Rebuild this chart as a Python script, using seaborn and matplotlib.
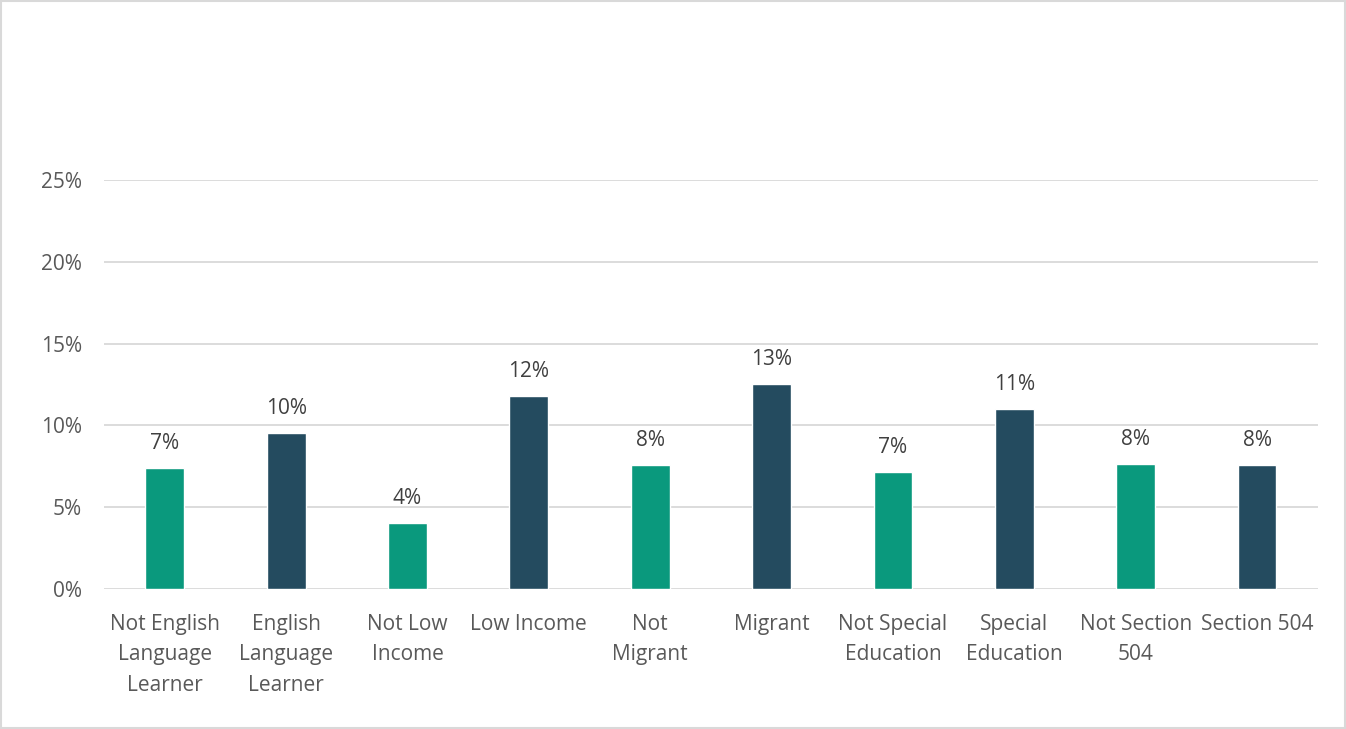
import matplotlib
matplotlib.use("Agg")
import matplotlib.pyplot as plt
import seaborn as sns
import pandas as pd
from matplotlib.ticker import FuncFormatter
from matplotlib.patches import Rectangle

categories = ["Not English\nLanguage\nLearner", "English\nLanguage\nLearner", "Not Low\nIncome",
              "Low Income", "Not\nMigrant", "Migrant", "Not Special\nEducation", "Special\nEducation",
              "Not Section\n504", "Section 504"]
values = [7.4, 9.55, 4.05, 11.8, 7.6, 12.55, 7.15, 11.0, 7.65, 7.6]
groups = ["Not", "Yes", "Not", "Yes", "Not", "Yes", "Not", "Yes", "Not", "Yes"]
colors = {"Not": "#0A997D", "Yes": "#244B5F"}
yticks = [0, 5, 10, 15, 20, 25]

sns.set_theme(style="white")
plt.rcParams['font.family'] = ['Open Sans', 'DejaVu Sans']

df = pd.DataFrame({"cat": categories, "val": values, "grp": groups})

fig = plt.figure(figsize=(13.46, 7.29), dpi=100)
ax = fig.add_axes([0.0773, 0.192, 0.9017, 0.561])
sns.barplot(data=df, x="cat", y="val", hue="grp", palette=colors, dodge=False,
            width=0.32, legend=False, ax=ax, saturation=1)

ax.set_ylim(0, 25)
ax.set_xlim(-0.5, len(categories) - 0.5)
ax.set_yticks(yticks)
ax.yaxis.set_major_formatter(FuncFormatter(lambda v, p: f"{int(v)}%"))
ax.grid(axis="y", color="#D9D9D9", linewidth=1.3)
ax.set_axisbelow(True)
for s in ax.spines.values():
    s.set_visible(False)
ax.set_xlabel("")
ax.set_ylabel("")
ax.tick_params(axis="both", length=0, colors="#595959", labelsize=15)
ax.tick_params(axis="y", pad=16)
ax.tick_params(axis="x", pad=18)
for lbl in ax.get_xticklabels():
    lbl.set_linespacing(1.58)
    lbl.set_verticalalignment("top")

for i, v in enumerate(values):
    ax.annotate(f"{round(v):.0f}%", (i, v), xytext=(0, 10), textcoords="offset points",
                ha="center", va="bottom", fontsize=15, color="#404040")

fig.patches.append(Rectangle((0.001, 0.001), 0.998, 0.997, transform=fig.transFigure,
                             fill=False, edgecolor="#D9D9D9", linewidth=1.5))
fig.savefig("out.png", dpi=100)
